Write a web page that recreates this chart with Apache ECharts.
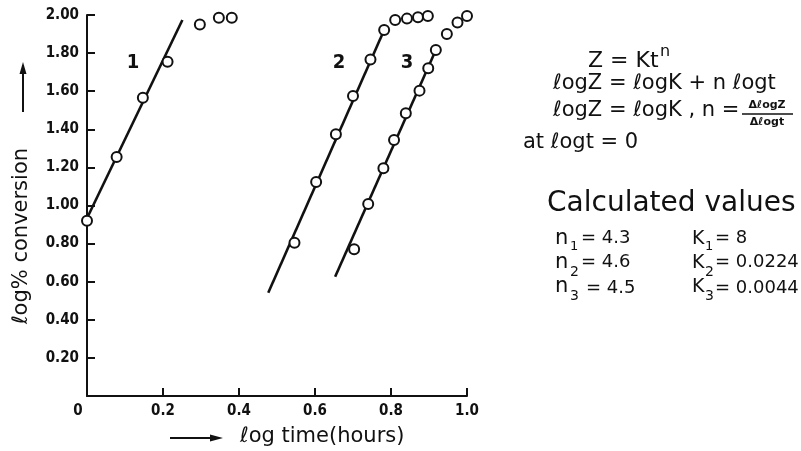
<!DOCTYPE html>
<html>
<head>
<meta charset="utf-8">
<script src="https://cdn.jsdelivr.net/npm/echarts@6/dist/echarts.min.js"></script>
<style>
  html, body { margin: 0; padding: 0; background: #fff; }
  #chart { width: 801px; height: 451px; }
</style>
</head>
<body>
<div id="chart"></div>
<script>
// Measured points: log time (hours) vs log % conversion
const run1 = [[0.000, 0.92], [0.078, 1.255], [0.147, 1.566], [0.212, 1.755],
              [0.297, 1.95], [0.347, 1.986], [0.381, 1.986]];
const run2 = [[0.546, 0.805], [0.603, 1.123], [0.655, 1.374], [0.700, 1.575],
              [0.746, 1.767], [0.782, 1.921], [0.811, 1.974], [0.842, 1.981],
              [0.871, 1.988], [0.897, 1.995]];
const run3 = [[0.703, 0.770], [0.740, 1.008], [0.780, 1.195], [0.808, 1.344],
              [0.839, 1.484], [0.875, 1.603], [0.898, 1.720], [0.918, 1.816],
              [0.947, 1.900], [0.975, 1.961], [1.000, 1.995]];

// Straight-line fits (end points)
const fit1 = [[0.000, 0.933], [0.251, 1.974]];
const fit2 = [[0.477, 0.542], [0.782, 1.921]];
const fit3 = [[0.653, 0.626], [0.918, 1.816]];

// Curve numbers
const curveLabels = [[0.121, 1.748, '1'], [0.663, 1.748, '2'], [0.842, 1.748, '3']];

// Axis ticks
const xTicks = [0, 0.2, 0.4, 0.6, 0.8, 1.0];
const yTicks = [0, 0.2, 0.4, 0.6, 0.8, 1.0, 1.2, 1.4, 1.6, 1.8, 2.0];

const ink = '#111';
const labelFont = '"Liberation Sans Narrow", "DejaVu Sans Condensed", sans-serif';
const handFont = '"DejaVu Sans", sans-serif';

function fitSeries(data) {
  return {
    type: 'line', data: data, symbol: 'none', silent: true,
    lineStyle: { color: ink, width: 2.6 }, z: 2
  };
}
function pointSeries(data) {
  return {
    type: 'scatter', data: data, symbol: 'circle', symbolSize: 10, clip: false,
    itemStyle: { color: '#fff', borderColor: ink, borderWidth: 2, opacity: 1 }, z: 3
  };
}

function txt(x, y, text, size, extra) {
  return {
    type: 'text', x: x, y: y,
    style: Object.assign({
      text: text, fontSize: size, fontFamily: handFont, fill: ink,
      align: 'left', verticalAlign: 'middle'
    }, extra || {})
  };
}

const graphics = [
  // y axis title with arrow
  { type: 'line', shape: { x1: 23, y1: 112, x2: 23, y2: 72 }, style: { stroke: ink, lineWidth: 2 } },
  { type: 'polygon', shape: { points: [[19.5, 74], [26.5, 74], [23, 62]] }, style: { fill: ink } },
  { type: 'text', x: 22, y: 236, rotation: Math.PI / 2,
    style: { text: 'ℓog% conversion', fontSize: 21, fontFamily: handFont, fill: ink,
             align: 'center', verticalAlign: 'middle' } },
  // x axis title with arrow
  { type: 'line', shape: { x1: 170, y1: 438, x2: 212, y2: 438 }, style: { stroke: ink, lineWidth: 2 } },
  { type: 'polygon', shape: { points: [[210, 434.5], [210, 441.5], [223, 438]] }, style: { fill: ink } },
  txt(240, 437, 'ℓog time(hours)', 21),

  // model equations
  txt(588, 61, 'Z = Kt', 22),
  txt(660, 52, 'n', 16),
  txt(553, 84, 'ℓogZ = ℓogK + n ℓogt', 21),
  txt(553, 111, 'ℓogZ = ℓogK , n =', 21),
  txt(767, 105, 'ΔℓogZ', 11, { align: 'center', fontWeight: 'bold' }),
  { type: 'line', shape: { x1: 742, y1: 114, x2: 793, y2: 114 }, style: { stroke: ink, lineWidth: 1.5 } },
  txt(767, 122, 'Δℓogt', 11, { align: 'center', fontWeight: 'bold' }),
  txt(523, 143, 'at ℓogt = 0', 21),

  // calculated values
  txt(547, 204, 'Calculated values', 28),
  txt(555, 239, 'n', 21), txt(570, 247, '1', 13), txt(581, 238, '= 4.3', 18),
  txt(555, 263, 'n', 21), txt(570, 272, '2', 14), txt(581, 262, '= 4.6', 18),
  txt(555, 287, 'n', 21), txt(570, 296, '3', 14), txt(586, 288, '= 4.5', 18),
  txt(692, 239, 'K', 19), txt(705, 247, '1', 13), txt(715, 238, '= 8', 18),
  txt(692, 263, 'K', 19), txt(705, 272, '2', 14), txt(715, 262, '= 0.0224', 18),
  txt(692, 287, 'K', 19), txt(705, 296, '3', 14), txt(715, 288, '= 0.0044', 18)
];

const chart = echarts.init(document.getElementById('chart'), null, { renderer: 'canvas' });
chart.setOption({
  animation: false,
  backgroundColor: '#fff',
  grid: { left: 87, right: 334, top: 15, bottom: 55 },
  xAxis: {
    type: 'value', min: xTicks[0], max: xTicks[xTicks.length - 1], interval: 0.2,
    axisLine: { lineStyle: { color: ink, width: 2 } },
    axisTick: { inside: true, length: 8, lineStyle: { color: ink, width: 2 } },
    splitLine: { show: false },
    axisLabel: {
      color: ink, fontFamily: labelFont, fontWeight: 'bold', fontSize: 15, margin: 8,
      formatter: v => (v === 0 ? '{z|0}' : v.toFixed(1)),
      rich: { z: { fontFamily: labelFont, fontWeight: 'bold', fontSize: 15, color: ink, padding: [0, 18, 0, 0] } }
    }
  },
  yAxis: {
    type: 'value', min: yTicks[0], max: yTicks[yTicks.length - 1], interval: 0.2,
    axisLine: { lineStyle: { color: ink, width: 2 } },
    axisTick: { inside: true, length: 8, lineStyle: { color: ink, width: 2 } },
    splitLine: { show: false },
    axisLabel: {
      color: ink, fontFamily: labelFont, fontWeight: 'bold', fontSize: 15, margin: 8,
      formatter: v => (v === 0 ? '' : v.toFixed(2))
    }
  },
  series: [
    fitSeries(fit1), fitSeries(fit2), fitSeries(fit3),
    pointSeries(run1), pointSeries(run2), pointSeries(run3),
    {
      type: 'scatter', symbolSize: 0, silent: true,
      itemStyle: { opacity: 1 },
      data: curveLabels.map(d => ({ value: [d[0], d[1]], name: d[2] })),
      label: {
        show: true, position: 'inside', formatter: p => p.name,
        color: ink, fontFamily: labelFont, fontWeight: 'bold', fontSize: 20
      }
    }
  ],
  graphic: graphics
});
</script>
</body>
</html>
